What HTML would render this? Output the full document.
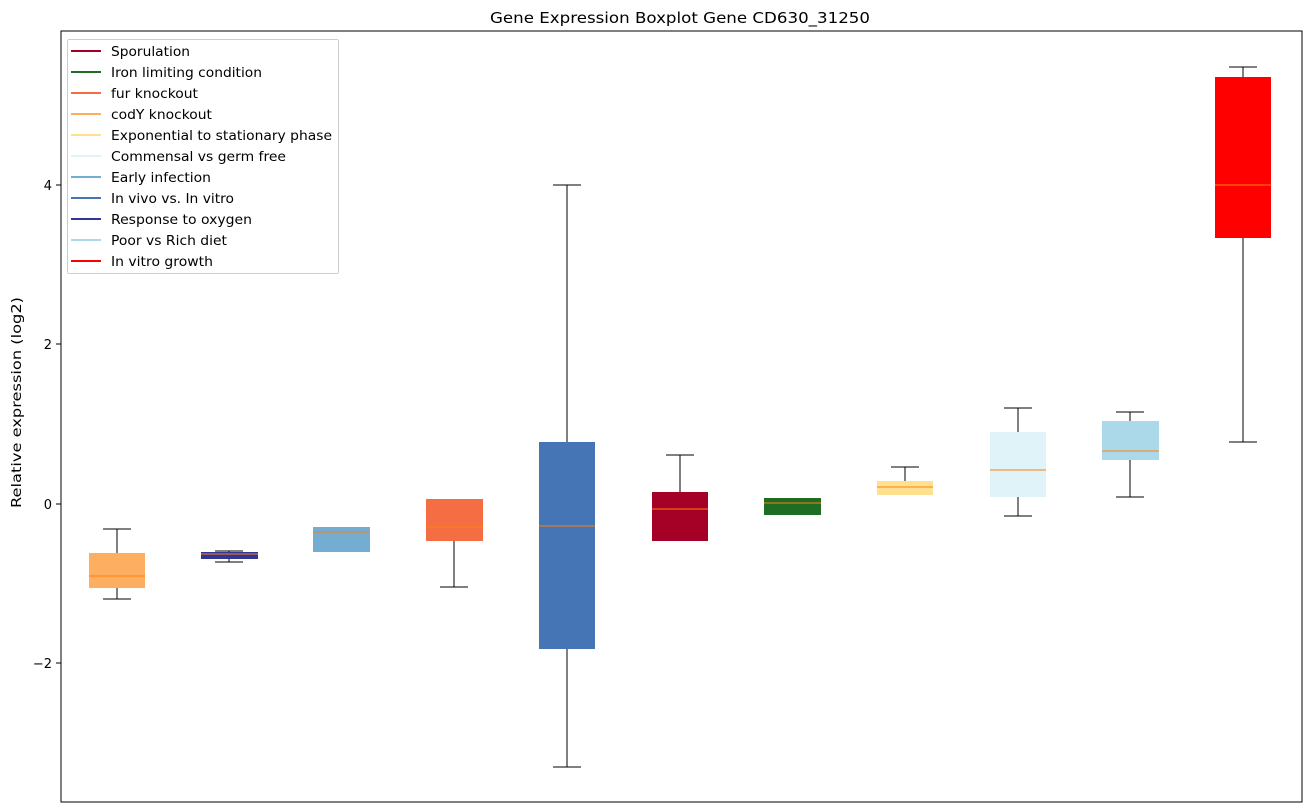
<!DOCTYPE html><html><head><style>body{margin:0;background:#fff}svg{display:block}text{font-family:"DejaVu Sans","Liberation Sans",sans-serif}</style></head><body>
<svg width="1309" height="812" xmlns="http://www.w3.org/2000/svg" shape-rendering="crispEdges">
<text x="490" y="23" font-size="15" textLength="380" lengthAdjust="spacingAndGlyphs">Gene Expression Boxplot Gene CD630_31250</text>
<g stroke="#000" stroke-width="1" fill="none">
<path d="M117 529V553M117 588V599M103 529H131M103 599H131"/>
<path d="M229 551V552M229 559V562M215 551H243M215 562H243"/>
<path d="M454 587V541M440 587H468"/>
<path d="M567 185V442M567 649V767M553 185H581M553 767H581"/>
<path d="M680 455V492M666 455H694"/>
<path d="M905 467V481M891 467H919"/>
<path d="M1018 408V432M1018 497V516M1004 408H1032M1004 516H1032"/>
<path d="M1130 412V421M1130 460V497M1116 412H1144M1116 497H1144"/>
<path d="M1243 67V77M1243 238V442M1229 67H1257M1229 442H1257"/>
</g>
<g>
<rect x="89" y="553" width="56" height="35" fill="#fdae61"/>
<rect x="201" y="552" width="57" height="7" fill="#313695"/>
<rect x="313" y="527" width="57" height="25" fill="#74add1"/>
<rect x="426" y="499" width="57" height="42" fill="#f46d43"/>
<rect x="539" y="442" width="56" height="207" fill="#4575b4"/>
<rect x="652" y="492" width="56" height="49" fill="#a50026"/>
<rect x="764" y="498" width="57" height="17" fill="#1f6d25"/>
<rect x="877" y="481" width="56" height="14" fill="#fee090"/>
<rect x="990" y="432" width="56" height="65" fill="#e0f3f8"/>
<rect x="1102" y="421" width="57" height="39" fill="#abd9e9"/>
<rect x="1215" y="77" width="56" height="161" fill="#ff0000"/>
</g>
<g stroke="#ff7f0e" stroke-width="1">
<path d="M89 576H145M201 554H258M313 532H370M426 527H483M539 526H595M652 509H708M764 503H821M877 487H933M990 470H1046M1102 451H1159M1215 185H1271"/>
</g>
<rect x="61" y="31" width="1241" height="771" fill="none" stroke="#000" stroke-width="1"/>
<g stroke="#000"><path d="M56 185H61M56 344H61M56 504H61M56 663H61"/></g>
<g font-size="13" text-anchor="end">
<text x="52" y="190">4</text><text x="52" y="349">2</text><text x="52" y="509">0</text><text x="52" y="668">−2</text>
</g>
<text transform="translate(21,508) rotate(-90)" font-size="13" textLength="211" lengthAdjust="spacingAndGlyphs">Relative expression (log2)</text>
<rect x="67.5" y="39.5" width="271" height="234" rx="2" fill="#fff" fill-opacity="0.8" stroke="#ccc"/>
<g stroke-width="2">
<path d="M71 51H101" stroke="#a50026"/><path d="M71 72H101" stroke="#1f6d25"/><path d="M71 93H101" stroke="#f46d43"/><path d="M71 114H101" stroke="#fdae61"/><path d="M71 135H101" stroke="#fee090"/><path d="M71 156H101" stroke="#e0f3f8"/><path d="M71 177H101" stroke="#74add1"/><path d="M71 198H101" stroke="#4575b4"/><path d="M71 219H101" stroke="#313695"/><path d="M71 240H101" stroke="#abd9e9"/><path d="M71 261H101" stroke="#ff0000"/>
</g>
<g font-size="13.5">
<text x="111" y="56" textLength="79" lengthAdjust="spacingAndGlyphs">Sporulation</text>
<text x="111" y="77" textLength="151" lengthAdjust="spacingAndGlyphs">Iron limiting condition</text>
<text x="111" y="98" textLength="87" lengthAdjust="spacingAndGlyphs">fur knockout</text>
<text x="111" y="119" textLength="101" lengthAdjust="spacingAndGlyphs">codY knockout</text>
<text x="111" y="140" textLength="221" lengthAdjust="spacingAndGlyphs">Exponential to stationary phase</text>
<text x="111" y="161" textLength="175" lengthAdjust="spacingAndGlyphs">Commensal vs germ free</text>
<text x="111" y="182" textLength="100" lengthAdjust="spacingAndGlyphs">Early infection</text>
<text x="111" y="203" textLength="123" lengthAdjust="spacingAndGlyphs">In vivo vs. In vitro</text>
<text x="111" y="224" textLength="141" lengthAdjust="spacingAndGlyphs">Response to oxygen</text>
<text x="111" y="245" textLength="116" lengthAdjust="spacingAndGlyphs">Poor vs Rich diet</text>
<text x="111" y="266" textLength="102" lengthAdjust="spacingAndGlyphs">In vitro growth</text>
</g>
</svg></body></html>
